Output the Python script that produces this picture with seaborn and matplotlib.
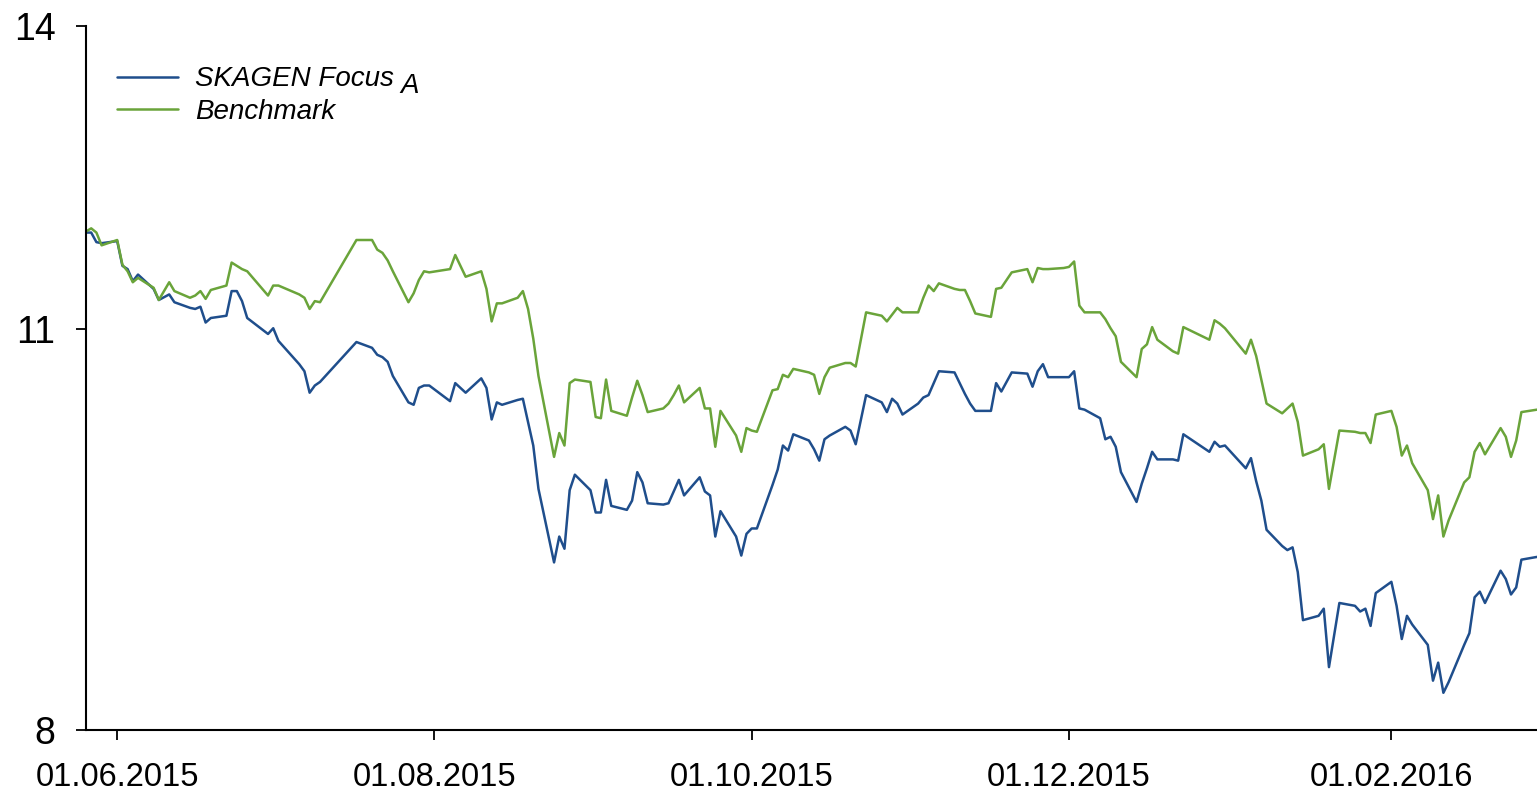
import pandas as pd
import matplotlib
matplotlib.use("Agg")
import matplotlib.pyplot as plt
import matplotlib.dates as mdates
from matplotlib.ticker import FixedLocator, FixedFormatter, NullLocator
import seaborn as sns

# trading days shown in the chart (one list per month)
dates = (
    ["2015-05-26", "2015-05-27", "2015-05-28", "2015-05-29"]
    + ["2015-06-%02d" % d for d in [1, 2, 3, 4, 5, 8, 9, 11, 12, 15, 16, 17, 18, 19, 22, 23, 24, 25, 26, 30]]
    + ["2015-07-%02d" % d for d in [1, 2, 3, 6, 7, 8, 9, 10, 17, 20, 21, 22, 23, 24, 27, 28, 29, 30, 31]]
    + ["2015-08-%02d" % d for d in [4, 5, 6, 7, 10, 11, 12, 13, 14, 17, 18, 19, 20, 21, 24, 25, 26, 27, 28, 31]]
    + ["2015-09-%02d" % d for d in [1, 2, 3, 4, 7, 8, 9, 10, 11, 14, 15, 16, 17, 18, 21, 22, 23, 24, 25, 28, 29, 30]]
    + ["2015-10-%02d" % d for d in [1, 2, 5, 6, 7, 8, 9, 12, 13, 14, 15, 16, 19, 20, 21, 23, 26, 27, 28, 29, 30]]
    + ["2015-11-%02d" % d for d in [2, 3, 4, 5, 6, 9, 10, 11, 12, 13, 16, 17, 18, 20, 23, 24, 25, 26, 27, 30]]
    + ["2015-12-%02d" % d for d in [1, 2, 3, 4, 7, 8, 9, 10, 11, 14, 15, 16, 17, 18, 21, 22, 23, 28, 29, 30, 31]]
    + ["2016-01-%02d" % d for d in [4, 5, 6, 7, 8, 11, 12, 13, 14, 15, 18, 19, 20, 22, 25, 26, 27, 28, 29]]
    + ["2016-02-%02d" % d for d in [1, 2, 3, 4, 5, 8, 9, 10, 11, 12, 15, 16, 17, 18, 19, 22, 23, 24, 25, 26, 29]]
)

focus = [
    11.88, 11.88, 11.79, 11.78,
    11.80, 11.57, 11.54, 11.43, 11.49, 11.36, 11.26, 11.31, 11.24, 11.19, 11.18, 11.20, 11.06, 11.10, 11.12, 11.34, 11.34, 11.25, 11.10, 10.96,
    11.01, 10.90, 10.85, 10.70, 10.64, 10.46, 10.52, 10.55, 10.89, 10.84, 10.78, 10.76, 10.72, 10.60, 10.38, 10.36, 10.50, 10.52, 10.52,
    10.39, 10.54, 10.50, 10.46, 10.58, 10.50, 10.24, 10.38, 10.36, 10.40, 10.41, 10.22, 10.03, 9.69, 9.14, 9.33, 9.24, 9.68, 9.80, 9.68,
    9.51, 9.51, 9.76, 9.56, 9.53, 9.60, 9.82, 9.74, 9.58, 9.57, 9.58, 9.67, 9.76, 9.64, 9.78, 9.67, 9.64, 9.33, 9.52, 9.33, 9.19, 9.35,
    9.39, 9.39, 9.72, 9.84, 10.03, 9.99, 10.12, 10.07, 10.00, 9.91, 10.08, 10.11, 10.18, 10.15, 10.04, 10.44, 10.38, 10.30, 10.41, 10.37, 10.28,
    10.37, 10.42, 10.44, 10.54, 10.64, 10.63, 10.54, 10.45, 10.37, 10.31, 10.31, 10.54, 10.47, 10.63, 10.62, 10.51, 10.64, 10.70, 10.59, 10.59,
    10.59, 10.64, 10.33, 10.32, 10.25, 10.08, 10.10, 10.02, 9.82, 9.59, 9.73, 9.85, 9.98, 9.92, 9.92, 9.91, 10.12, 9.98, 10.06, 10.02, 10.03,
    9.85, 9.93, 9.75, 9.60, 9.38, 9.26, 9.23, 9.25, 9.07, 8.73, 8.76, 8.81, 8.41, 8.85, 8.83, 8.79, 8.81, 8.69, 8.92,
    9.00, 8.83, 8.60, 8.76, 8.70, 8.56, 8.32, 8.44, 8.24, 8.31, 8.56, 8.64, 8.89, 8.93, 8.85, 9.08, 9.02, 8.91, 8.96, 9.16, 9.18,
]

benchmark = [
    11.89, 11.92, 11.88, 11.76,
    11.81, 11.58, 11.52, 11.42, 11.46, 11.37, 11.26, 11.42, 11.34, 11.28, 11.30, 11.34, 11.27, 11.35, 11.39, 11.60, 11.57, 11.54, 11.52, 11.30,
    11.39, 11.39, 11.37, 11.31, 11.28, 11.18, 11.25, 11.24, 11.81, 11.81, 11.72, 11.69, 11.62, 11.52, 11.24, 11.32, 11.44, 11.52, 11.51,
    11.54, 11.67, 11.57, 11.47, 11.52, 11.36, 11.07, 11.23, 11.23, 11.28, 11.34, 11.18, 10.92, 10.60, 9.94, 10.13, 10.03, 10.54, 10.57, 10.55,
    10.26, 10.25, 10.57, 10.31, 10.27, 10.42, 10.56, 10.44, 10.30, 10.33, 10.37, 10.44, 10.52, 10.38, 10.50, 10.33, 10.33, 10.02, 10.31, 10.11, 9.98, 10.17,
    10.15, 10.14, 10.48, 10.49, 10.61, 10.59, 10.66, 10.63, 10.61, 10.45, 10.59, 10.67, 10.71, 10.71, 10.68, 11.15, 11.12, 11.07, 11.13, 11.19, 11.15,
    11.15, 11.28, 11.39, 11.34, 11.41, 11.36, 11.35, 11.35, 11.25, 11.14, 11.11, 11.36, 11.37, 11.51, 11.54, 11.42, 11.55, 11.54, 11.54, 11.55,
    11.56, 11.61, 11.21, 11.15, 11.15, 11.09, 11.01, 10.94, 10.72, 10.59, 10.83, 10.87, 11.02, 10.91, 10.81, 10.79, 11.02, 10.91, 11.08, 11.05, 11.01,
    10.79, 10.91, 10.77, 10.57, 10.37, 10.29, 10.33, 10.37, 10.22, 9.95, 10.00, 10.04, 9.69, 10.15, 10.14, 10.13, 10.13, 10.05, 10.28,
    10.31, 10.18, 9.95, 10.03, 9.89, 9.68, 9.46, 9.64, 9.33, 9.45, 9.74, 9.78, 9.98, 10.05, 9.96, 10.17, 10.10, 9.94, 10.07, 10.30, 10.32,
]

series_names = ["SKAGEN Focus", "Benchmark"]
colors = {"SKAGEN Focus": "#1f4e8c", "Benchmark": "#6aa43a"}
y_ticks = [8, 11, 14]
x_ticks = ["2015-06-01", "2015-08-01", "2015-10-01", "2015-12-01", "2016-02-01"]

df = pd.DataFrame({"date": pd.to_datetime(dates), series_names[0]: focus, series_names[1]: benchmark})
long_df = df.melt(id_vars="date", var_name="series", value_name="value")

sns.set_style("ticks")
plt.rcParams["font.family"] = ["Liberation Sans", "DejaVu Sans"]
plt.rcParams.update({
    "text.color": "black", "axes.edgecolor": "black", "axes.labelcolor": "black",
    "xtick.color": "black", "ytick.color": "black",
})

fig = plt.figure(figsize=(15.37, 7.91), dpi=100)
ax = fig.add_axes([86 / 1537, 61 / 791, 1451 / 1537, 704 / 791])

sns.lineplot(data=long_df, x="date", y="value", hue="series", hue_order=series_names,
             palette=colors, linewidth=1.8, ax=ax, legend=False)

ax.set_yscale("log")
ax.set_ylim(8, 14)
ax.yaxis.set_major_locator(FixedLocator(y_ticks))
ax.yaxis.set_major_formatter(FixedFormatter([str(t) for t in y_ticks]))
ax.yaxis.set_minor_locator(NullLocator())

ax.set_xlim(pd.Timestamp("2015-05-26"), pd.Timestamp("2016-02-29"))
ax.set_xticks(pd.to_datetime(x_ticks))
ax.xaxis.set_major_formatter(mdates.DateFormatter("%d.%m.%Y"))
ax.xaxis.set_minor_locator(NullLocator())

ax.set_xlabel("")
ax.set_ylabel("")
sns.despine(ax=ax)
for side in ["left", "bottom"]:
    ax.spines[side].set_linewidth(1.5)
ax.tick_params(axis="x", length=7, width=1.3, pad=16, labelsize=23.5)
ax.tick_params(axis="y", length=7, width=1.3, pad=15, labelsize=27)

# legend
handles = [plt.Line2D([], [], color=colors[s], linewidth=1.8) for s in series_names]
leg = ax.legend(handles, series_names, loc="upper left", bbox_to_anchor=(117 / 1537, 0.916),
                bbox_transform=fig.transFigure, frameon=False, borderpad=0, borderaxespad=0,
                handlelength=2.2, handletextpad=0.6, labelspacing=0.22,
                prop={"size": 20, "style": "italic"})

# subscript "A" after the fund name, same size, set lower
fig.canvas.draw()
bb = leg.get_texts()[0].get_window_extent()
fig.text((bb.x1 + 7) / fig.bbox.width, (bb.y0 - 7) / fig.bbox.height, "A",
         ha="left", va="bottom", fontsize=20, fontstyle="italic")

fig.savefig("out.png", dpi=100)
